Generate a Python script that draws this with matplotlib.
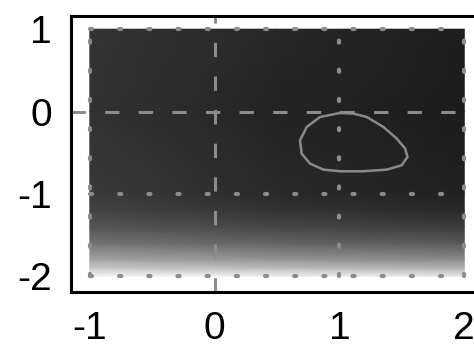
import numpy as np
import matplotlib.pyplot as plt

plt.rcParams['font.family'] = ['Liberation Sans', 'DejaVu Sans']
plt.rcParams['axes.unicode_minus'] = False

# background shading (gray level 0-255) read at grid nodes
grid_x = [-1.0, 0.5, 2.0]
grid_y = [-2.0, -1.9, -1.8, -1.6, -1.4, -1.2, -1.0, 0.0, 1.0]
shade = [
    [245, 240, 232],
    [200, 188, 178],
    [165, 150, 140],
    [115, 100, 90],
    [85, 70, 60],
    [68, 52, 42],
    [58, 42, 33],
    [50, 36, 28],
    [52, 40, 30],
]

# closed contour
loop_x = [1.005, 0.844, 0.738, 0.684, 0.697, 0.764, 0.871, 1.005, 1.192,
          1.379, 1.499, 1.545, 1.526, 1.459, 1.352, 1.219, 1.112, 1.005]
loop_y = [-0.017, -0.066, -0.187, -0.349, -0.511, -0.632, -0.705, -0.725, -0.725,
          -0.705, -0.652, -0.551, -0.450, -0.328, -0.187, -0.066, -0.025, -0.017]

dashed_x = [0]
dashed_y = [0]
dotted_x = [-1, 1, 2]
dotted_y = [-2, -1, 1]
ticks_x = [-1, 0, 1, 2]
ticks_y = [-2, -1, 0, 1]

fig = plt.figure(figsize=(4.74, 3.56), dpi=100)
ax = fig.add_axes([0.150, 0.180, 0.869, 0.775])

Z = np.array(shade) / 255.0
ax.pcolormesh(grid_x, grid_y, Z, shading='gouraud', cmap='gray', vmin=0, vmax=1)

ax.plot(loop_x, loop_y, color='#8a8a8a', lw=1.8, solid_joinstyle='round')

gc = '#8c8c8c'
for v in dashed_x:
    ax.axvline(v, color=gc, lw=2.2, dashes=(4.7, 6.3))
for v in dashed_y:
    ax.axhline(v, color=gc, lw=2.2, dashes=(4.7, 6.3))
for v in dotted_x:
    ax.plot([v, v], [-2, 1], color=gc, lw=3.0, dashes=(0.5, 6.5),
            dash_capstyle='round')
for v in dotted_y:
    ax.plot([-1, 2], [v, v], color=gc, lw=3.0, dashes=(0.5, 6.5),
            dash_capstyle='round')

ax.set_xlim(-1.15, 2.15)
ax.set_ylim(-2.19, 1.16)
ax.set_xticks(ticks_x)
ax.set_yticks(ticks_y)
ax.tick_params(length=0, labelsize=28)
ax.tick_params(axis='x', pad=14)
ax.tick_params(axis='y', pad=14)
for s in ax.spines.values():
    s.set_linewidth(2.2)

fig.savefig('out.png', dpi=100)
